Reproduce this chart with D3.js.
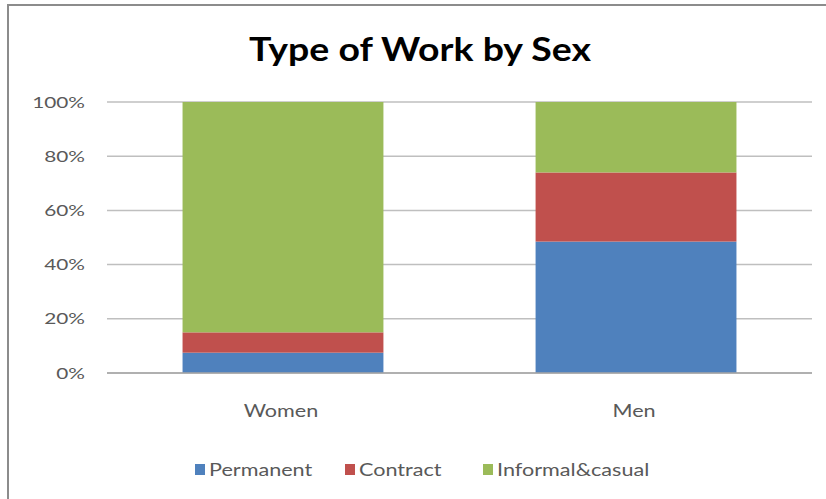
<!DOCTYPE html>
<html>
<head>
<meta charset="utf-8">
<script src="https://cdn.jsdelivr.net/npm/d3@7"></script>
<style>
  html, body { margin: 0; padding: 0; background: #fff; }
  svg { display: block; }
</style>
</head>
<body>
<svg id="chart" width="826" height="499"></svg>
<script>
// Share of each type of work, percent of workers in each group
const categories = ["Women", "Men"];
const seriesNames = ["Permanent", "Contract", "Informal&casual"];
const permanent = [7.5, 48.5];
const contract = [7.5, 25.5];
const informal = [85, 26];
const tickValues = [0, 20, 40, 60, 80, 100];
const colors = ["#4f81bd", "#c0504d", "#9bbb59"];

const svg = d3.select("#chart");
const W = 826, H = 499;
const margin = { left: 107, right: 14, top: 102, bottom: 126 };
const FONT = "Lato, 'Open Sans', sans-serif";

// Text drawn with a slight horizontal stretch, anchored at (x, y)
function label(parent, x, y, str, opts) {
  const t = parent.append("text")
    .attr("transform", `translate(${x},${y}) scale(${opts.sx || 1},1)`)
    .attr("text-anchor", opts.anchor || "start")
    .attr("dy", opts.dy || null)
    .attr("font-family", FONT)
    .attr("font-size", opts.size)
    .attr("font-weight", opts.weight || "normal")
    .attr("fill", opts.fill || "#595959")
    .text(str);
  return t;
}

// Chart frame
svg.append("rect")
  .attr("x", 8).attr("y", 5)
  .attr("width", W + 10).attr("height", H + 10)
  .attr("fill", "#fff")
  .attr("stroke", "#8c8c8c").attr("stroke-width", 2);

// Title
label(svg, 420, 61, "Type of Work by Sex",
  { anchor: "middle", size: 32, weight: "bold", fill: "#000", sx: 1.17 });

const rows = categories.map((c, i) => ({
  category: c,
  "Permanent": permanent[i],
  "Contract": contract[i],
  "Informal&casual": informal[i]
}));

const x = d3.scaleBand()
  .domain(categories)
  .range([margin.left, W - margin.right])
  .paddingInner(0.431)
  .paddingOuter(0.214);

const y = d3.scaleLinear()
  .domain([0, 100])
  .range([H - margin.bottom, margin.top]);

// Gridlines
svg.append("g")
  .selectAll("line")
  .data(tickValues)
  .join("line")
  .attr("x1", margin.left).attr("x2", W - margin.right)
  .attr("y1", d => y(d)).attr("y2", d => y(d))
  .attr("stroke", "#bfbfbf").attr("stroke-width", 1.5);

// Y axis labels
const ya = svg.append("g");
tickValues.forEach(v => {
  label(ya, 85, y(v), v + "%", { anchor: "end", size: 16, dy: "0.35em", sx: 1.3 });
});

// Stacked bars
const stack = d3.stack().keys(seriesNames);
const layers = stack(rows);
svg.append("g")
  .selectAll("g")
  .data(layers)
  .join("g")
  .attr("fill", (d, i) => colors[i])
  .selectAll("rect")
  .data(d => d)
  .join("rect")
  .attr("x", d => x(d.data.category))
  .attr("width", x.bandwidth())
  .attr("y", d => y(d[1]))
  .attr("height", d => y(d[0]) - y(d[1]));

// Baseline
svg.append("line")
  .attr("x1", margin.left).attr("x2", W - margin.right)
  .attr("y1", y(0)).attr("y2", y(0))
  .attr("stroke", "#a6a6a6").attr("stroke-width", 1.5);

// Category labels
const xa = svg.append("g");
categories.forEach(c => {
  label(xa, x(c) + x.bandwidth() / 2 - 2, y(0) + 44, c,
    { anchor: "middle", size: 18, sx: 1.2 });
});

// Legend
const legendX = [195, 345, 483];
const legend = svg.append("g");
seriesNames.forEach((name, i) => {
  const g = legend.append("g").attr("transform", `translate(${legendX[i]},469.5)`);
  g.append("rect")
    .attr("x", 0).attr("y", -5.5)
    .attr("width", 10).attr("height", 11)
    .attr("fill", colors[i]);
  label(g, 14, 0, name, { size: 18, dy: "0.35em", sx: 1.2 });
});
</script>
</body>
</html>
